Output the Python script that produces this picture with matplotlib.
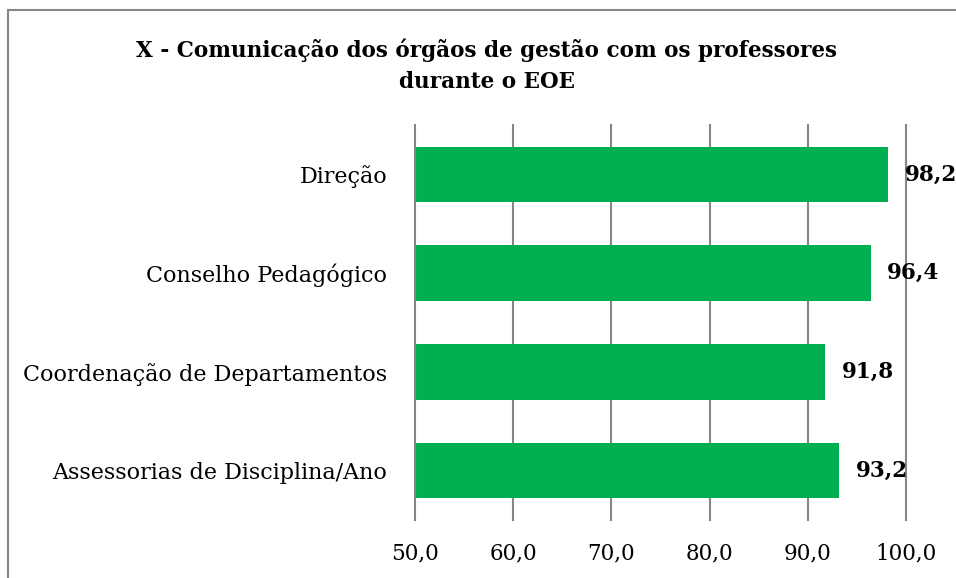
import matplotlib
matplotlib.use("Agg")
import matplotlib.pyplot as plt
from matplotlib.patches import Rectangle

categories = ["Direção", "Conselho Pedagógico", "Coordenação de Departamentos", "Assessorias de Disciplina/Ano"]
values = [98.2, 96.4, 91.8, 93.2]
ticks = [50, 60, 70, 80, 90, 100]
tick_labels = ["50,0", "60,0", "70,0", "80,0", "90,0", "100,0"]
title = "X - Comunicação dos órgãos de gestão com os professores\ndurante o EOE"

plt.rcParams['font.family'] = ['DejaVu Serif']

fig = plt.figure(figsize=(9.56, 5.78), dpi=100)
W, H = 956, 578
ax = fig.add_axes([415 / W, 1 - 520 / H, (906 - 415) / W, (520 - 125) / H])

y = list(range(len(categories)))
ax.barh(y, values, left=0, height=0.56, color="#00B050", zorder=3)
ax.set_xlim(50, 100)
ax.set_ylim(len(categories) - 0.5, -0.5)
ax.set_yticks(y)
ax.set_yticklabels(categories, fontsize=16)
ax.set_xticks(ticks)
ax.set_xticklabels(tick_labels, fontsize=15.5)
ax.tick_params(axis="y", length=0, pad=20)
ax.tick_params(axis="x", length=0, pad=16)
for s in ax.spines.values():
    s.set_visible(False)
for t in ticks:
    ax.axvline(t, color="#868686", linewidth=1.5, zorder=0 if t > 50 else 4, clip_on=False)

for yi, v in zip(y, values):
    ax.annotate(f"{v:.1f}".replace(".", ","), (v, yi), xytext=(12, 0), textcoords="offset points",
                va="center", ha="left", fontsize=15.5, fontweight="bold", annotation_clip=False, zorder=5)

fig.text(487 / W, 1 - 66 / H, title, ha="center", va="center", fontsize=15.5, fontweight="bold",
         linespacing=1.5)

fig.patches.append(Rectangle((8 / W, -0.1), 1.2, 1 - 10 / H + 0.1, transform=fig.transFigure,
                             fill=False, edgecolor="#878787", linewidth=1.5))

fig.savefig("out.png", dpi=100)
